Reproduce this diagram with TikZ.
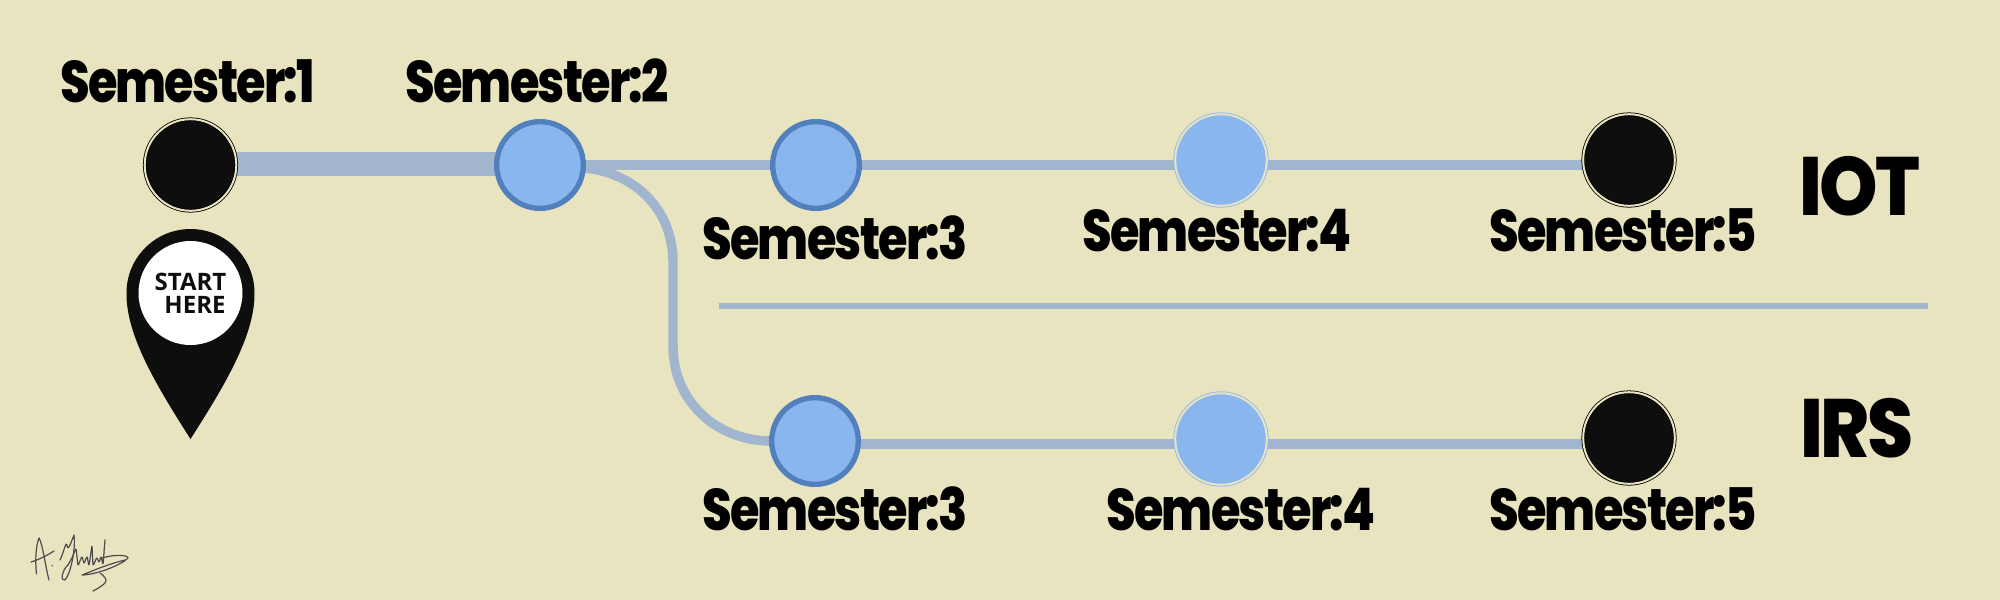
\documentclass[tikz,border=0pt]{standalone}
\usepackage{fontspec}
\usetikzlibrary{backgrounds}
\newfontfamily\semfont[LetterSpace=-3,FakeStretch=0.815]{Poppins ExtraBold}
\newfontfamily\trackfont[LetterSpace=-3,FakeStretch=0.9]{Poppins ExtraBold}
\newfontfamily\pinfont{Open Sans Bold}
\definecolor{paper}{RGB}{233,228,192}
\definecolor{railblue}{RGB}{161,182,206}
\definecolor{stopblue}{RGB}{138,182,240}
\definecolor{rimblue}{RGB}{82,128,188}
\definecolor{stopblack}{RGB}{14,14,14}
\tikzset{
  rail/.style={draw=railblue,line width=7.1pt},
  mainrail/.style={draw=railblue,line width=17.5pt},
  divider/.style={draw=railblue,line width=4.3pt},
  blackstop/.style={circle,inner sep=0pt,outer sep=0pt,minimum size=68.7pt,fill=stopblack,draw=black,line width=0.6pt,double=paper,double distance=1.5pt},
  ringstop/.style={circle,inner sep=0pt,outer sep=0pt,minimum size=68.7pt,fill=stopblue,draw=stopblue,line width=0.6pt,double=paper,double distance=1.5pt},
  rimstop/.style={circle,inner sep=0pt,outer sep=0pt,minimum size=65pt,fill=stopblue,draw=rimblue,line width=4pt},
  semlabel/.style={anchor=base,inner sep=0pt,font=\semfont\fontsize{44}{44}\selectfont},
  tracklabel/.style={anchor=base,inner sep=0pt,font=\trackfont\fontsize{62}{62}\selectfont},
  pinlabel/.style={anchor=base,inner sep=0pt,text=stopblack,font=\pinfont\fontsize{18}{18}\selectfont},
  signature/.style={draw=black!70,line width=0.9pt,line cap=round,line join=round}
}
\begin{document}
\begin{tikzpicture}[x=0.75pt,y=0.75pt,yscale=-1,xscale=1]

%Stops
\node[blackstop] (sem1) at (190.5,165) {};
\node[rimstop] (sem2) at (540,165) {};
\node[rimstop] (iot3) at (816,165) {};
\node[ringstop] (iot4) at (1221,160) {};
\node[blackstop] (iot5) at (1629,160) {};
\node[rimstop] (irs3) at (815,441) {};
\node[ringstop] (irs4) at (1221,439) {};
\node[blackstop] (irs5) at (1629,438) {};
\coordinate (mainline) at (0,164);
\coordinate (iotrail) at (0,165);
\coordinate (irsrail) at (0,444);
\coordinate (dividerstart) at (719,306);
\coordinate (dividerend) at (1928,306);

%Rails
\begin{pgfonlayer}{background}
\fill[paper] (0,0) rectangle (2000,600);
\draw[mainrail] (sem1 |- mainline) -- (sem2 |- mainline);
\draw[rail] (sem2) -- (iot3);
\draw[rail] (iot3 |- iotrail) -- (iot4 |- iotrail);
\draw[rail] (iot4 |- iotrail) -- (iot5 |- iotrail);
\draw[rail] (irs3 |- irsrail) -- (irs4 |- irsrail);
\draw[rail] (irs4 |- irsrail) -- (irs5 |- irsrail);
\draw[divider] (dividerstart) -- (dividerend);
\draw[rail] (sem2.east |- 0,168) .. controls (635,172) and (673,210) .. (673,262) -- (673,346) .. controls (673,400) and (715,441) .. (irs3);
\end{pgfonlayer}

%Pin
\fill[stopblack] (126.5,293) arc (180:360:64) .. controls (255,335) and (225,385) .. (190.5,439) .. controls (156,385) and (126,335) .. cycle;
\node[circle,fill=white,inner sep=0pt,minimum size=78pt] (pinhole) at (190.5,293) {};
\node[pinlabel] (pinstart) at (190.5,290) {START};
\node[pinlabel] (pinhere) at (195,313) {HERE};

% Text Node
\node[semlabel] (lab1) at (187.5,102.7) {Semester:1};
\node[semlabel] (lab2) at (537,102.7) {Semester:2};
\node[semlabel] (labiot3) at (835,259) {Semester:3};
\node[semlabel] (labiot4) at (1217,251) {Semester:4};
\node[semlabel] (labiot5) at (1623,251) {Semester:5};
\node[semlabel] (labirs3) at (835,530) {Semester:3};
\node[semlabel] (labirs4) at (1241,530) {Semester:4};
\node[semlabel] (labirs5) at (1623,530) {Semester:5};
\node[tracklabel] (iot) at (1860,215) {IOT};
\node[tracklabel] (irs) at (1857,457) {IRS};

%Signature
\draw[signature] (36.5,574) .. controls (35,560) and (36,545) .. (39,538) .. controls (43,545) and (45,565) .. (49,580);
\draw[signature] (31,562) .. controls (38,560) and (46,556) .. (54,551);
\draw[signature] (52,565.5) -- (52.6,566);
\draw[signature] (60,560) .. controls (64,552) and (66,540) .. (67,545) .. controls (68,552) and (70,545) .. (74,535) .. controls (76,550) and (70,575) .. (65,580) .. controls (60,582) and (62,570) .. (68,565);
\draw[signature,rounded corners=1pt] (68,565) -- (72,558) -- (76,548) -- (78,566) -- (82,556) -- (84,564) -- (87,556) -- (89,566) -- (92,545) -- (93,566) -- (97,557) -- (99,563) -- (101,556) -- (103,565) -- (105,540);
\draw[signature] (102,558) .. controls (115,554) and (128,555) .. (128,558) .. controls (122,565) and (95,575) .. (82,575) .. controls (90,572) and (105,565) .. (125,560);
\draw[signature] (100,573) .. controls (104,576) and (108,580) .. (105,583) .. controls (102,586) and (97,589) .. (93,591);
\end{tikzpicture}
\end{document}
